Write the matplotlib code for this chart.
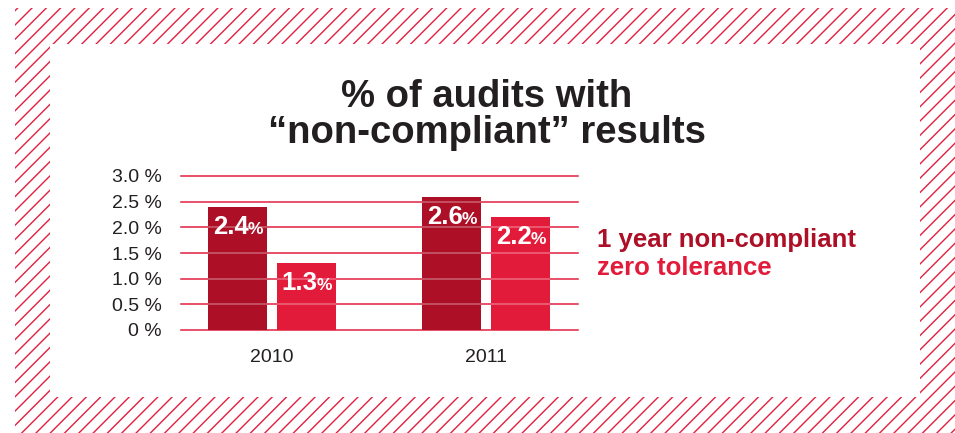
import numpy as np
import matplotlib.pyplot as plt
from matplotlib.patches import Rectangle

years = ['2010', '2011']
one_year = [2.4, 2.6]
zero_tol = [1.3, 2.2]
yticks = [0, 0.5, 1.0, 1.5, 2.0, 2.5, 3.0]
ytick_labels = ['0 %', '0.5 %', '1.0 %', '1.5 %', '2.0 %', '2.5 %', '3.0 %']
series_names = ['1 year non-compliant', 'zero tolerance']

dark = '#ad0f26'
light = '#e31b3a'
red = '#e2203f'
ink = '#231f20'

plt.rcParams['font.family'] = ['Liberation Sans', 'DejaVu Sans']

W, H = 955, 433
fig = plt.figure(figsize=(W / 100, H / 100), dpi=100)

# hatched frame, drawn in pixel coords
bg = fig.add_axes([0, 0, 1, 1])
bg.set_xlim(0, W)
bg.set_ylim(H, 0)
bg.axis('off')
frame = Rectangle((15, 8), W - 15, H - 8, facecolor='none', edgecolor='none')
bg.add_patch(frame)
for c in np.arange(40 - 14.3 * 5, W + H + 20, 14.3):
    ln, = bg.plot([c - H - 20, c + 20], [H + 20, -20], color=red, lw=1.0)
    ln.set_clip_path(frame)
bg.add_patch(Rectangle((50, 44), 870, 353, facecolor='white', edgecolor='none', zorder=3))

# bars
ax = fig.add_axes([181 / W, (H - 330) / H, 397 / W, 154 / H])
ax.set_facecolor('none')
x = np.arange(len(years))
w = 0.276
off = 0.161
bars1 = ax.bar(x - off, one_year, w, color=dark, zorder=2)
bars2 = ax.bar(x + off, zero_tol, w, color=light, zorder=2)
ax.set_xlim(-0.425, 1.43)
ax.set_ylim(0, 3)
ax.set_yticks(yticks, ytick_labels)
ax.set_xticks(x, years)
ax.tick_params(length=0, labelsize=14, labelcolor=ink)
ax.tick_params(axis='y', pad=14)
ax.tick_params(axis='x', pad=14)
for s in ax.spines.values():
    s.set_visible(False)
ax.yaxis.grid(True, color=red, lw=1.1)
ax.set_axisbelow(True)
for gl in ax.get_ygridlines():
    gl.set_clip_on(False)

for bars, vals in ((bars1, one_year), (bars2, zero_tol)):
    for b, v in zip(bars, vals):
        # faint grid showing through the bar
        for yt in yticks:
            if 0 < yt < v:
                ax.hlines(yt, b.get_x(), b.get_x() + b.get_width(), color='white',
                          alpha=0.35, lw=1.1, zorder=3)
        cx = b.get_x() + b.get_width() / 2
        ax.annotate(f'{v:.1f}', (cx, v), xytext=(11, -27), textcoords='offset pixels',
                    ha='right', va='baseline', color='white', fontsize=18.5,
                    fontweight='bold', zorder=4)
        ax.annotate('%', (cx, v), xytext=(10, -27), textcoords='offset pixels',
                    ha='left', va='baseline', color='white', fontsize=12.5,
                    fontweight='bold', zorder=4)

fig.text(487 / W, 1 - 107 / H, '% of audits with', ha='center', va='baseline',
         fontsize=27.5, fontweight='bold', color=ink)
fig.text(487 / W, 1 - 143 / H, '\u201cnon-compliant\u201d results', ha='center',
         va='baseline', fontsize=27.5, fontweight='bold', color=ink)

fig.text(597 / W, 1 - 247 / H, series_names[0], color=dark, fontsize=18.5,
         fontweight='bold', va='baseline')
fig.text(597 / W, 1 - 275 / H, series_names[1], color=light, fontsize=18.5,
         fontweight='bold', va='baseline')

fig.savefig('out.png', dpi=100)
